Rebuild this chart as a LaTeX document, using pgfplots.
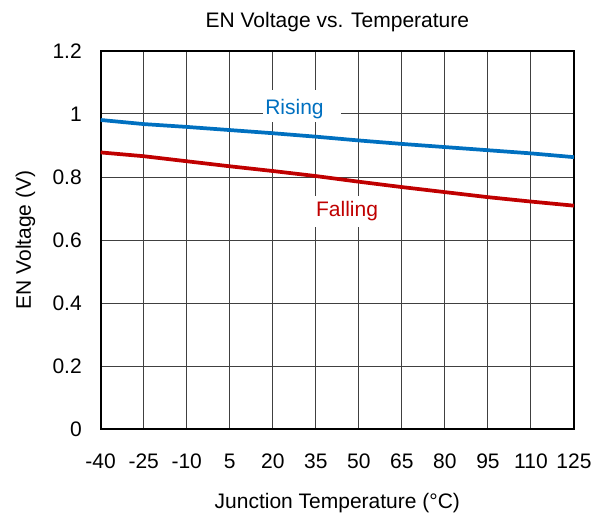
\documentclass[border=0pt]{standalone}
\usepackage{fontspec}
\setmainfont{Liberation Sans}
\usepackage{pgfplots}
\pgfplotsset{compat=1.18}
\definecolor{risb}{HTML}{0070C0}
\definecolor{fallr}{HTML}{C00000}
\newcommand\fsz{\fontsize{15.75}{18}\selectfont}
\begin{document}
\begin{tikzpicture}
\begin{axis}[name=ax, scale only axis, width=355pt, height=283.5pt,
  xmin=-40, xmax=125, ymin=0, ymax=1.2,
  xtick={-40,-25,-10,5,20,35,50,65,80,95,110,125},
  xticklabels={-40,-25,-10,5,20,35,50,65,80,95,110,125},
  ytick={0,0.2,0.4,0.6,0.8,1,1.2},
  yticklabels={0,0.2,0.4,0.6,0.8,1,1.2},
  grid=major, major grid style={black!75, line width=0.75pt},
  major tick length=0pt,
  axis line style={line width=1.5pt},
  tick label style={font=\fsz},
  xticklabel style={anchor=base, yshift=-29.25pt, inner sep=0pt},
  yticklabel style={anchor=east, xshift=-14pt, inner sep=0pt},
]
\addplot[risb, line width=2.8pt, line join=round] coordinates {
(-40,0.981) (-25,0.968) (-10,0.959) (5,0.949) (20,0.939) (35,0.928) (50,0.916) (65,0.905) (80,0.895) (95,0.885) (110,0.875) (125,0.863)};
\addplot[fallr, line width=2.8pt, line join=round] coordinates {
(-40,0.878) (-25,0.866) (-10,0.850) (5,0.834) (20,0.819) (35,0.803) (50,0.785) (65,0.768) (80,0.752) (95,0.736) (110,0.722) (125,0.709)};
\fill[white] (axis cs:16.6,0.975) rectangle (axis cs:43.8,1.076);
\node[anchor=base west, inner sep=0pt, text=risb, font=\fsz] at (axis cs:17.3,1.0) {Rising};
\fill[white] (axis cs:33.6,0.641) rectangle (axis cs:59,0.740);
\node[anchor=base west, inner sep=0pt, text=fallr, font=\fsz] at (axis cs:35,0.674) {Falling};
\end{axis}
\node[anchor=base, inner sep=0pt, font=\fsz] at ([yshift=17.25pt]ax.north) {EN Voltage vs. Temperature};
\node[anchor=base, inner sep=0pt, font=\fsz] at ([yshift=-59.25pt]ax.south) {Junction Temperature (°C)};
\node[rotate=90, anchor=base, inner sep=0pt, font=\fsz] at ([xshift=-52.3pt]ax.west) {EN Voltage (V)};
\pgfresetboundingbox
\path[use as bounding box] ([xshift=-75.5pt, yshift=-63.75pt]ax.south west) rectangle ([xshift=21pt, yshift=38.25pt]ax.north east);
\end{tikzpicture}
\end{document}
